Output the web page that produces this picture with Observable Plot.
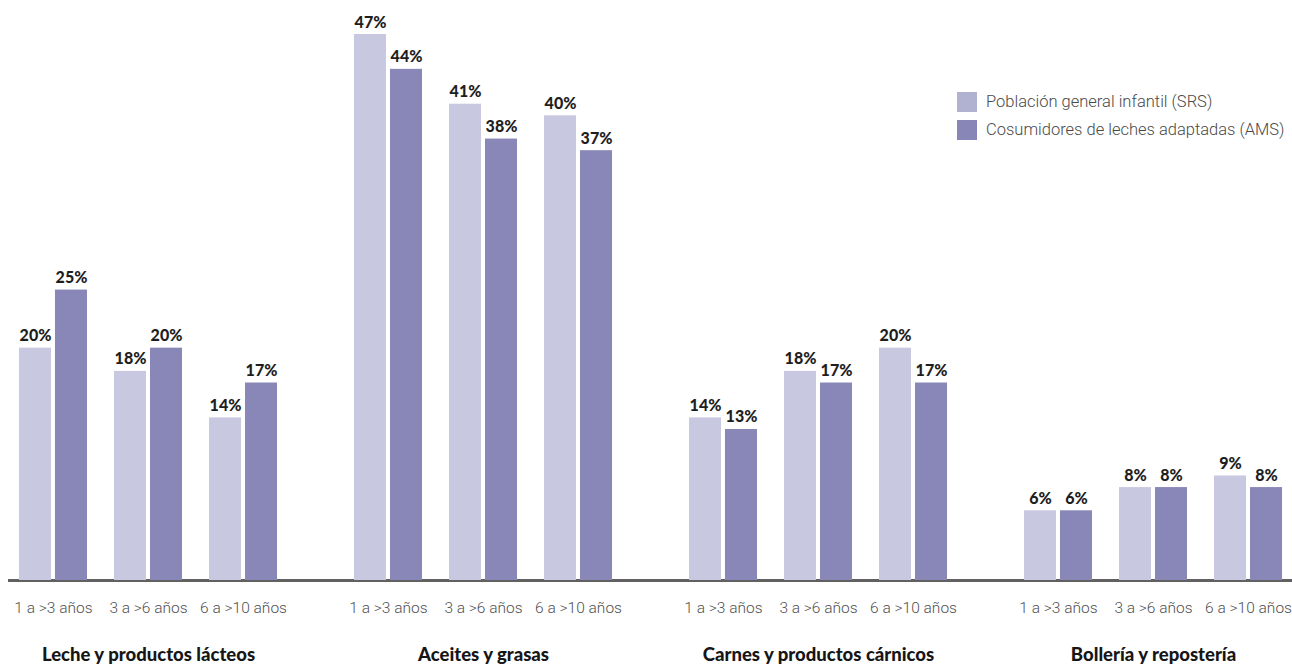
<!DOCTYPE html>
<html>
<head>
<meta charset="utf-8">
<script src="https://cdn.jsdelivr.net/npm/d3@7"></script>
<script src="https://cdn.jsdelivr.net/npm/@observablehq/plot@0.6"></script>
<style>
  html, body { margin: 0; padding: 0; background: #fff; }
  #wrap { position: relative; width: 1292px; height: 665px; overflow: hidden; }
  #chart svg { margin-left: 8px; display: block; }
  #legend { position: absolute; left: 957px; top: 92px; }
  #legend .lg-swatches { font-family: Roboto, "Noto Sans", sans-serif !important; font-weight: 300 !important; font-size: 16.5px !important; color: #4a4a4a !important; margin: 0 !important; min-height: 0 !important; }
  #legend .lg-swatch { padding-bottom: 8px !important; line-height: 20px; }
  #legend .lg-swatch svg { margin-right: 9px !important; }
</style>
</head>
<body>
<div id="wrap">
  <div id="chart"></div>
  <div id="legend"></div>
</div>
<script>
const groups = ["Leche y productos lácteos", "Aceites y grasas", "Carnes y productos cárnicos", "Bollería y repostería"];
const ages = ["1 a >3 años", "3 a >6 años", "6 a >10 años"];
const series = ["Población general infantil (SRS)", "Cosumidores de leches adaptadas (AMS)"];
const srsValues = [20, 18, 14, 47, 41, 40, 14, 18, 20, 6, 8, 9];
const amsValues = [25, 20, 17, 44, 38, 37, 13, 17, 17, 6, 8, 8];
const barColors = ["#c8c8e0", "#8887b8"];
const legendColors = ["#b1b1d2", "#8786b6"];

const rows = [];
groups.forEach((g, gi) => {
  ages.forEach((a, ai) => {
    const i = gi * ages.length + ai;
    rows.push({group: g, age: a, series: series[0], value: srsValues[i]});
    rows.push({group: g, age: a, series: series[1], value: amsValues[i]});
  });
});
const srsRows = rows.filter(d => d.series === series[0]);
const amsRows = rows.filter(d => d.series === series[1]);

const valueFont = "Lato, 'Open Sans', sans-serif";

const chart = Plot.plot({
  width: 1284,
  height: 665,
  marginLeft: -27.5,
  marginRight: -28.5,
  marginTop: 34,
  marginBottom: 85,
  style: {background: "transparent"},
  fx: {domain: groups, padding: 0, round: false},
  x: {domain: ages, paddingInner: 0.284, paddingOuter: 0.405, round: false},
  y: {domain: [0, 47], axis: null},
  color: {domain: series, range: barColors},
  marks: [
    Plot.ruleY([0], {stroke: "#616161", strokeWidth: 3, insetLeft: -12, insetRight: -12}),
    Plot.barY(srsRows, {fx: "group", x: "age", y: "value", fill: "series", insetRight: 36}),
    Plot.barY(amsRows, {fx: "group", x: "age", y: "value", fill: "series", insetLeft: 36}),
    Plot.text(srsRows, {fx: "group", x: "age", y: "value", text: d => d.value + "%", dx: -18, dy: -7, lineAnchor: "bottom", fontSize: 16, fontWeight: 900, fontFamily: valueFont, fill: "#1e1e1e"}),
    Plot.text(amsRows, {fx: "group", x: "age", y: "value", text: d => d.value + "%", dx: 18, dy: -7, lineAnchor: "bottom", fontSize: 16, fontWeight: 900, fontFamily: valueFont, fill: "#1e1e1e"}),
    Plot.axisX({tickSize: 0, tickPadding: 21, fontSize: 15.5, fontFamily: "Roboto, sans-serif", fontWeight: 300, fill: "#505050", label: null}),
    Plot.axisFx({anchor: "bottom", tickSize: 0, tickPadding: 67, fontSize: 18.5, fontWeight: 900, fontFamily: valueFont, fill: "#161616", label: null})
  ]
});
document.getElementById("chart").appendChild(chart);

const legend = Plot.legend({
  color: {domain: series, range: legendColors},
  legend: "swatches",
  columns: 1,
  swatchSize: 20,
  className: "lg"
});
document.getElementById("legend").appendChild(legend);
</script>
</body>
</html>
